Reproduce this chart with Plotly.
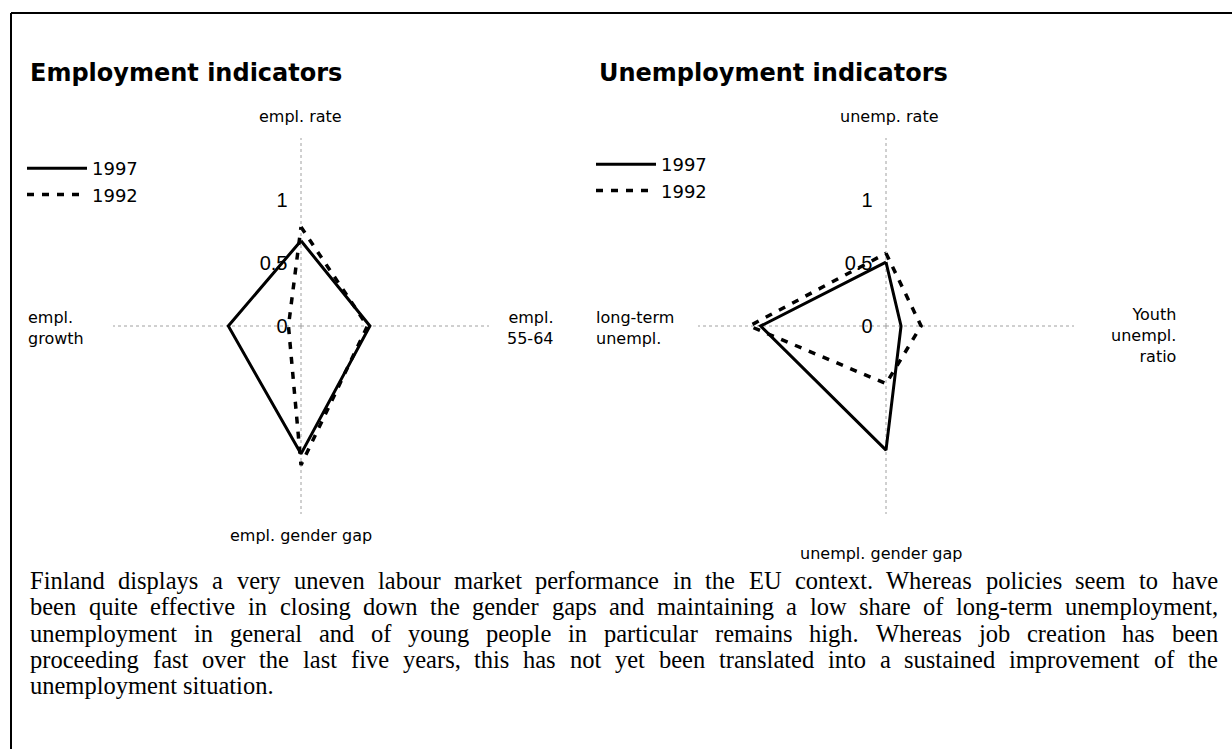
import plotly.graph_objects as go

W, H = 1232, 749

# ---------------- data ----------------
years = ["1997", "1992"]

emp_axes = ["empl. rate", "empl. 55-64", "empl. gender gap", "empl. growth"]
emp_1997 = [0.68, 0.55, 1.02, 0.58]
emp_1992 = [0.79, 0.53, 1.11, 0.10]

unemp_axes = ["unemp. rate", "Youth unempl. ratio", "unempl. gender gap", "long-term unempl."]
unemp_1997 = [0.51, 0.12, 0.99, 1.00]
unemp_1992 = [0.58, 0.28, 0.46, 1.09]

radial_tickvals = [0, 0.5, 1]
radial_ticktext = ["0", "0.5", "1"]

titles = ["Employment indicators", "Unemployment indicators"]

paragraph_lines = [
    "Finland displays a very uneven labour market performance in the EU context. Whereas policies seem to have",
    "been quite effective in closing down the gender gaps and maintaining a low share of long-term unemployment,",
    "unemployment in general and of young people in particular remains high. Whereas job creation has been",
    "proceeding fast over the last five years, this has not yet been translated into a sustained improvement of the",
    "unemployment situation.",
]

# ---------------- layout constants ----------------
R = 188
CENTERS = [(301, 326), (886, 326)]
RMAX = 1.5
SANS = "DejaVu Sans, Arial, sans-serif"
LABEL_FONT = dict(family=SANS, size=16, color="black")
SERIF = "Liberation Serif, Times New Roman, serif"

fig = go.Figure()

styles = {
    "1997": dict(color="black", width=3),
    "1992": dict(color="black", width=3.5, dash="7px,8px"),
}

def closed(vals):
    return list(vals) + [vals[0]]

panels = [
    (emp_axes, {"1997": emp_1997, "1992": emp_1992}, "polar", "legend"),
    (unemp_axes, {"1997": unemp_1997, "1992": unemp_1992}, "polar2", "legend2"),
]

for axes, series, subplot, leg in panels:
    for y in years:
        fig.add_trace(go.Scatterpolar(
            r=closed(series[y]), theta=closed(axes), mode="lines",
            line=styles[y], name=y, subplot=subplot, legend=leg,
            legendgroup=leg + y, showlegend=True, hoverinfo="skip",
        ))

def polar_layout(cx, cy, axes):
    return dict(
        domain=dict(x=[(cx - R) / W, (cx + R) / W], y=[1 - (cy + R) / H, 1 - (cy - R) / H]),
        bgcolor="rgba(0,0,0,0)",
        radialaxis=dict(range=[0, RMAX], tickvals=radial_tickvals, ticktext=radial_ticktext,
                        angle=90, tickangle=90, side="counterclockwise", showline=False,
                        showgrid=False, ticks="outside", ticklen=6, tickcolor="rgba(0,0,0,0)",
                        tickfont=dict(family="Arial", size=20, color="black")),
        angularaxis=dict(type="category", categoryarray=axes, rotation=90, direction="clockwise",
                         showline=False, showgrid=True, gridcolor="#a0a0a0", griddash="dot",
                         gridwidth=1, ticks="", showticklabels=False),
    )

annotations = []
shapes = []

# titles
for title, x in zip(titles, [29, 598]):
    annotations.append(dict(text="<b>" + title + "</b>", x=x / W, y=1 - 73 / H, xref="paper", yref="paper",
                            xanchor="left", yanchor="middle", showarrow=False, borderpad=0,
                            font=dict(family=SANS, size=24, color="black")))

# axis category labels (positions relative to chart centres)
label_pos = [
    # (dx, dy, xanchor, align)
    [(-1, -209, "center", "center"), (254, 2, "right", "right"), (0, 209, "center", "center"), (-274, 2, "left", "left")],
    [(3, -209, "center", "center"), (291, 9, "right", "right"), (-5, 227, "center", "center"), (-291, 2, "left", "left")],
]
for (cx, cy), axes, poss in zip(CENTERS, [emp_axes, unemp_axes], label_pos):
    for lab, (dx, dy, xa, al) in zip(axes, poss):
        txt = "<br>".join(lab.split(" ")) if xa != "center" else lab
        annotations.append(dict(text=txt, x=(cx + dx) / W, y=1 - (cy + dy) / H, xref="paper", yref="paper",
                                xanchor=xa, yanchor="middle", align=al, showarrow=False, borderpad=0,
                                font=LABEL_FONT))

# paragraph, justified using Times metrics
TNR = {" ": 250, ",": 250, "-": 333, ".": 250,
       "E": 611, "F": 556, "U": 722, "W": 944,
       "a": 444, "b": 500, "c": 444, "d": 500, "e": 444, "f": 333, "g": 500, "h": 500, "i": 278,
       "j": 278, "k": 500, "l": 278, "m": 778, "n": 500, "o": 500, "p": 500, "q": 500, "r": 333,
       "s": 389, "t": 278, "u": 500, "v": 500, "w": 722, "x": 500, "y": 500, "z": 444}
PSIZE = 24.5
X0, X1 = 30, 1218
LINE_Y = [580, 606, 633, 659, 685]

def tw(s):
    return sum(TNR.get(c, 500) for c in s) * PSIZE / 1000.0

for i, (line, ly) in enumerate(zip(paragraph_lines, LINE_Y)):
    words = line.split(" ")
    widths = [tw(w) for w in words]
    if i < len(paragraph_lines) - 1 and len(words) > 1:
        gap = (X1 - X0 - sum(widths)) / (len(words) - 1)
    else:
        gap = tw(" ")
    x = X0
    for w, wd in zip(words, widths):
        annotations.append(dict(text=w, x=x / W, y=1 - ly / H, xref="paper", yref="paper",
                                xanchor="left", yanchor="middle", showarrow=False,
                                borderpad=0, borderwidth=0,
                                font=dict(family=SERIF, size=PSIZE, color="black")))
        x += wd + gap

# frame lines
shapes.append(dict(type="line", xref="paper", yref="paper", x0=11 / W, x1=1, y0=1 - 13 / H, y1=1 - 13 / H,
                   line=dict(color="black", width=2)))
shapes.append(dict(type="line", xref="paper", yref="paper", x0=11 / W, x1=11 / W, y0=0, y1=1 - 13 / H,
                   line=dict(color="black", width=2)))

legend_common = dict(xanchor="left", yanchor="top", bgcolor="rgba(0,0,0,0)", traceorder="normal",
                     font=dict(family=SANS, size=18, color="black"), itemwidth=60,
                     tracegroupgap=8, itemclick=False, itemdoubleclick=False)

fig.update_layout(
    width=W, height=H, margin=dict(l=0, r=0, t=0, b=0),
    paper_bgcolor="white", plot_bgcolor="white",
    polar=polar_layout(CENTERS[0][0], CENTERS[0][1], emp_axes),
    polar2=polar_layout(CENTERS[1][0], CENTERS[1][1], unemp_axes),
    legend=dict(x=22 / W, y=1 - 150 / H, **legend_common),
    legend2=dict(x=591 / W, y=1 - 146 / H, **legend_common),
    annotations=annotations, shapes=shapes,
)

fig.write_html("out.html", config={"displayModeBar": False},
               post_script="document.body.style.margin='0';document.body.style.overflow='hidden';")
